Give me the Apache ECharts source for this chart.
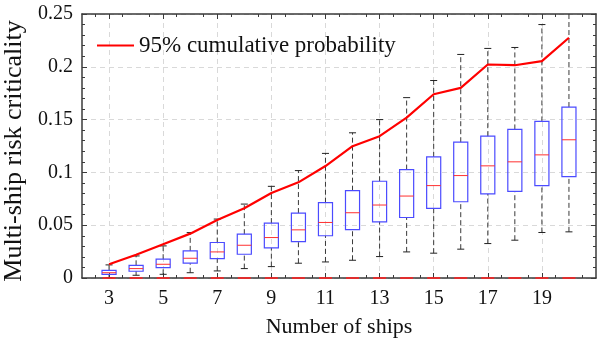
<!DOCTYPE html>
<html>
<head>
<meta charset="utf-8">
<script src="https://cdn.jsdelivr.net/npm/echarts@6/dist/echarts.min.js"></script>
<style>html,body{margin:0;padding:0;background:#fff}#c{width:598px;height:344px}</style>
</head>
<body>
<div id="c"></div>
<script>
var ships = [3,4,5,6,7,8,9,10,11,12,13,14,15,16,17,18,19,20];
var p95 = [0.013,0.022,0.032,0.042,0.055,0.066,0.0805,0.0906,0.106,0.1248,0.1343,0.1518,0.174,0.180,0.2022,0.2015,0.2053,0.2275];
var whiskerLow = [0.0,0.0026,0.0035,0.005,0.0067,0.0089,0.0108,0.014,0.0152,0.0168,0.0203,0.0247,0.0235,0.0273,0.0326,0.0358,0.0431,0.0437];
var q1 = [0.0035,0.0064,0.0098,0.014,0.0184,0.0225,0.0285,0.0345,0.040,0.0459,0.0532,0.0573,0.0659,0.0722,0.0796,0.082,0.0875,0.096];
var median = [0.005,0.0089,0.013,0.0187,0.0247,0.031,0.0383,0.0456,0.0526,0.0618,0.0691,0.0776,0.0875,0.097,0.1062,0.110,0.1166,0.1309];
var q3 = [0.0073,0.012,0.0178,0.0257,0.0336,0.0415,0.052,0.0615,0.0713,0.0827,0.0916,0.1027,0.1147,0.1286,0.1343,0.1407,0.1483,0.1619];
var whiskerHigh = [0.0124,0.0209,0.0304,0.043,0.0558,0.070,0.0868,0.1017,0.118,0.1375,0.150,0.1708,0.187,0.2117,0.2174,0.2183,0.240,0.27];
var outlierValue = [0,0,0,0,0,0,0,0,0,0,0,0,0,0,0,0,0,0];
var xTicks = [3,5,7,9,11,13,15,17,19];

var FONT = 'Liberation Serif';
var chart = echarts.init(document.getElementById('c'));

var boxData = ships.map(function(s,i){return [s, whiskerLow[i], q1[i], median[i], q3[i], whiskerHigh[i]];});
var lineData = ships.map(function(s,i){return [s, p95[i]];});
var outData = ships.map(function(s,i){return [s, outlierValue[i]];});

function renderBox(params, api){
  var x = api.value(0);
  var lo = api.coord([x, api.value(1)]);
  var b1 = api.coord([x, api.value(2)]);
  var md = api.coord([x, api.value(3)]);
  var b3 = api.coord([x, api.value(4)]);
  var hi = api.coord([x, api.value(5)]);
  var unit = api.size([1,0])[0];
  var bw = unit*0.52, cw = unit*0.26;
  var cx = lo[0];
  var dash = {stroke:'#3a3a3a', lineWidth:1, lineDash:[5,3]};
  var solid = {stroke:'#222', lineWidth:1};
  return {type:'group', children:[
    {type:'line', shape:{x1:cx,y1:b3[1],x2:cx,y2:hi[1]}, style:dash},
    {type:'line', shape:{x1:cx,y1:lo[1],x2:cx,y2:b1[1]}, style:dash},
    {type:'line', shape:{x1:cx-cw/2,y1:hi[1],x2:cx+cw/2,y2:hi[1]}, style:solid},
    {type:'line', shape:{x1:cx-cw/2,y1:lo[1],x2:cx+cw/2,y2:lo[1]}, style:solid},
    {type:'rect', shape:{x:cx-bw/2,y:b3[1],width:bw,height:b1[1]-b3[1]}, style:{fill:'none',stroke:'#4b4bff',lineWidth:1.2}},
    {type:'line', shape:{x1:cx-bw/2,y1:md[1],x2:cx+bw/2,y2:md[1]}, style:{stroke:'#ff3030',lineWidth:1}}
  ]};
}

var axisCol = '#3a3a3a';
var option = {
  animation:false,
  grid:{left:82, right:2, top:14, bottom:66, containLabel:false, outerBoundsMode:'none'},
  legend:{
    data:[{name:'95% cumulative probability', icon:'rect'}], left:92, top:29,
    itemWidth:37, itemHeight:2, itemGap:3,
    textStyle:{fontFamily:FONT, fontSize:23, color:'#111'}
  },
  xAxis:[{
    type:'value', min:2, max:21, interval:2,
    name:'Number of ships', nameLocation:'middle', nameGap:38,
    nameTextStyle:{fontFamily:FONT, fontSize:22, color:'#111'},
    axisLine:{onZero:false, lineStyle:{color:axisCol, width:1.5}},
    axisTick:{inside:true, length:5, customValues:xTicks, lineStyle:{color:axisCol}},
    minorTick:{show:true, splitNumber:4, length:3, lineStyle:{color:axisCol}},
    axisLabel:{customValues:xTicks, fontFamily:FONT, fontSize:20, color:'#111', margin:11},
    splitLine:{show:true, lineStyle:{color:'#d9d9d9', type:[5,4]}}
  },{
    type:'value', min:2, max:21, interval:2, position:'top',
    axisLine:{onZero:false, lineStyle:{color:axisCol, width:1.5}},
    axisTick:{inside:true, length:5, customValues:xTicks, lineStyle:{color:axisCol}},
    minorTick:{show:true, splitNumber:4, length:3, lineStyle:{color:axisCol}},
    axisLabel:{show:false}, splitLine:{show:false}
  }],
  yAxis:[{
    type:'value', min:0, max:0.25, interval:0.05,
    name:'Multi-ship risk criticality', nameLocation:'middle', nameGap:48,
    nameTextStyle:{fontFamily:FONT, fontSize:26, color:'#111', padding:[0,10,0,0]},
    axisLine:{show:true, lineStyle:{color:axisCol, width:1.5}},
    axisTick:{inside:true, length:5, lineStyle:{color:axisCol}},
    minorTick:{show:true, splitNumber:5, length:3, lineStyle:{color:axisCol}},
    axisLabel:{fontFamily:FONT, fontSize:20, color:'#111', margin:9},
    splitLine:{show:true, lineStyle:{color:'#d9d9d9', type:[5,4]}}
  },{
    type:'value', min:0, max:0.25, interval:0.05, position:'right',
    axisLine:{show:true, lineStyle:{color:axisCol, width:1.5}},
    axisTick:{inside:true, length:5, lineStyle:{color:axisCol}},
    minorTick:{show:true, splitNumber:5, length:3, lineStyle:{color:axisCol}},
    axisLabel:{show:false}, splitLine:{show:false}
  }],
  series:[
    {type:'custom', name:'box', renderItem:renderBox, data:boxData, clip:true, z:3,
     encode:{x:0, y:[1,2,3,4,5]}},
    {type:'line', name:'95% cumulative probability', data:lineData, symbol:'none',
     lineStyle:{color:'#ff0000', width:2.2}, itemStyle:{color:'#ff0000'}, z:4},
    {type:'scatter', name:'outliers', data:outData, symbol:'rect', symbolSize:[13,2],
     itemStyle:{color:'#ff2020'}, clip:false, z:5, silent:true}
  ]
};
chart.setOption(option);
</script>
</body>
</html>
